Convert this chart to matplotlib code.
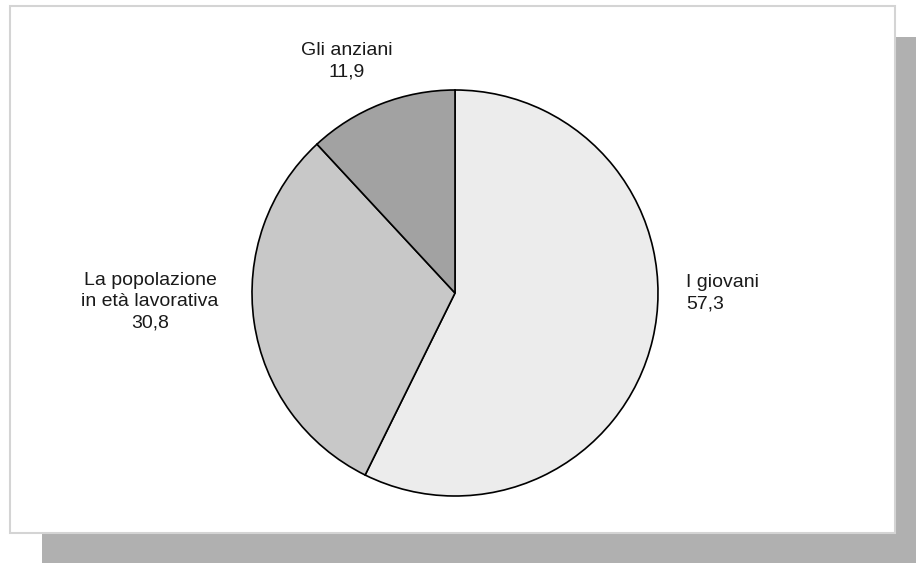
import matplotlib
matplotlib.use("Agg")
import matplotlib.pyplot as plt
from matplotlib.patches import Rectangle

labels = ["I giovani", "La popolazione\nin età lavorativa", "Gli anziani"]
values = [57.3, 30.8, 11.9]
value_text = ["57,3", "30,8", "11,9"]
colors = ["#ececec", "#c8c8c8", "#a2a2a2"]

W, H = 916, 563
fig = plt.figure(figsize=(W / 100, H / 100), dpi=100)
fig.patch.set_facecolor("white")

def px_rect(x0, y0, x1, y1, **kw):
    # pixel coords from top-left
    return Rectangle((x0 / W, 1 - y1 / H), (x1 - x0) / W, (y1 - y0) / H,
                     transform=fig.transFigure, **kw)

fig.patches.append(px_rect(42, 37, 916, 563, facecolor="#b0b0b0", edgecolor="none", zorder=-3))
fig.patches.append(px_rect(10, 6, 895, 533, facecolor="white", edgecolor="#d4d4d4", linewidth=1.5, zorder=-2))

cx, cy, r = 455, 293, 203
ax = fig.add_axes([(cx - r) / W, 1 - (cy + r) / H, 2 * r / W, 2 * r / H])
ax.set_zorder(1)
ax.patch.set_visible(False)
ax.pie(values, colors=colors, startangle=90, counterclock=False, radius=1,
       wedgeprops=dict(edgecolor="black", linewidth=1.2))
ax.set_xlim(-1, 1)
ax.set_ylim(-1, 1)
ax.set_aspect("equal")
ax.axis("off")

font = dict(family=["Liberation Sans", "DejaVu Sans"], fontsize=14, color="#1a1a1a",
            linespacing=1.32, zorder=5)
fig.text(686 / W, 1 - 293 / H, labels[0] + "\n" + value_text[0], ha="left", va="center", **font)
fig.text(150 / W, 1 - 302 / H, labels[1] + "\n" + value_text[1], ha="center", va="center", multialignment="center", **font)
fig.text(347 / W, 1 - 61 / H, labels[2] + "\n" + value_text[2], ha="center", va="center", multialignment="center", **font)

fig.savefig("out.png", dpi=100)
